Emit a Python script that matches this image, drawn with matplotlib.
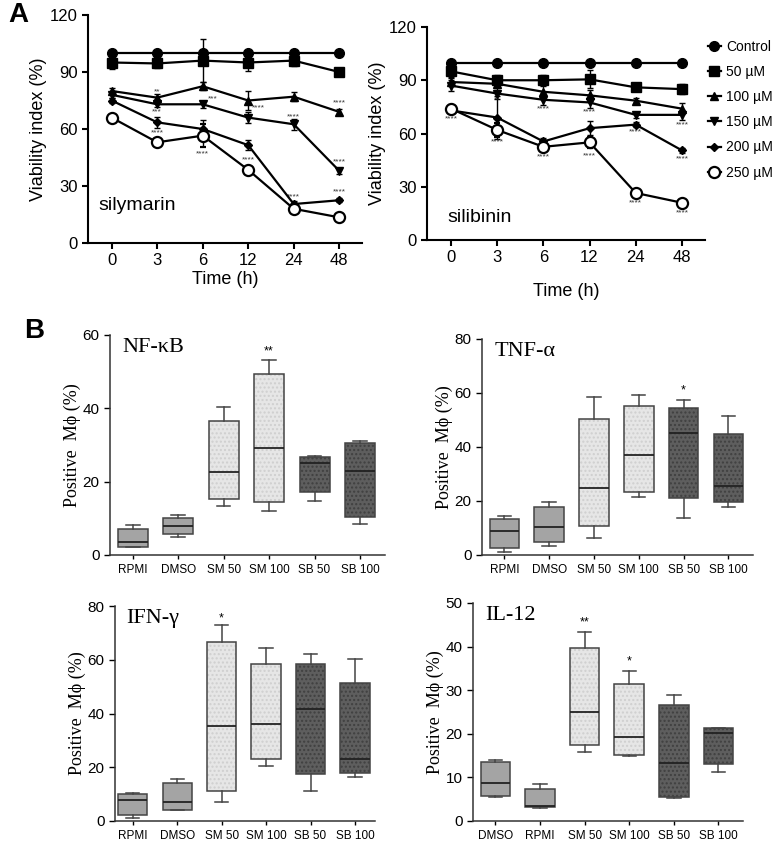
import matplotlib.pyplot as plt
from matplotlib.lines import Line2D
import matplotlib.patches as mpatches

plt.rcParams['font.family'] = ['Liberation Sans', 'DejaVu Sans']

# ---- panel A data (viability index, %) ----
times = ['0', '3', '6', '12', '24', '48']
doses = ['Control', '50 µM', '100 µM', '150 µM', '200 µM', '250 µM']

sm_ctrl = [100, 100, 100, 100, 100, 100]
sm_50 = [95, 94.5, 96, 95, 96, 90]
sm_100 = [80, 76.5, 82.5, 75, 77, 69]
sm_150 = [78, 73, 73, 66, 62.5, 38]
sm_200 = [75, 63.5, 60, 51.5, 20.5, 22.5]
sm_250 = [66, 53, 56.5, 38.5, 18, 13.5]
sm_err = [[0, 0, 0, 0, 0, 0],
          [3.5, 2.5, 11.5, 4.5, 3, 1.5],
          [1.5, 2, 2, 5, 2.5, 1.5],
          [1.5, 1.5, 2, 3, 3, 1.5],
          [1.5, 3, 5, 2.5, 1.5, 1],
          [1, 1, 6, 1.5, 1, 1]]

sb_ctrl = [100, 100, 100, 100, 100, 100]
sb_50 = [95, 90, 90, 90.5, 86, 85]
sb_100 = [89, 88, 83.5, 81.5, 78.5, 74]
sb_150 = [87, 82.5, 79, 77.5, 70.5, 70.5]
sb_200 = [73, 69, 55.5, 63, 65, 50.5]
sb_250 = [74, 62, 52.5, 55, 26.5, 21]
sb_err = [[0, 0, 0, 0, 0, 0],
          [3, 3, 3, 5, 1.5, 3],
          [2, 2, 4, 3, 1.5, 3],
          [3, 3, 3, 3, 1.5, 3],
          [2, 12, 2, 4, 1.5, 1.5],
          [2, 4, 2, 3, 1.5, 1.5]]

# significance marks: (time index, y, text)
sm_stars = [(1, 79.5, '**'), (2.22, 76, '***'), (1, 69, '***'), (1, 58, '****'),
            (2, 47, '****'), (3.22, 71, '****'), (3, 44, '****'), (4, 66.5, '****'),
            (4, 24.5, '****'), (5, 73.5, '****'), (5, 42.5, '****'), (5, 27, '****')]
sb_stars = [(0, 68.5, '****'), (1, 79, '**'), (1, 55, '****'), (2, 74, '****'),
            (2, 47, '****'), (3, 72, '****'), (3, 47.5, '****'), (4, 61, '****'),
            (4, 21, '****'), (5, 65, '****'), (5, 45.5, '****'), (5, 15.5, '****')]

# ---- panel B data (box plots: whisker low, q1, median, q3, whisker high) ----
groups = ['RPMI', 'DMSO', 'SM 50', 'SM 100', 'SB 50', 'SB 100']
groups_il12 = ['DMSO', 'RPMI', 'SM 50', 'SM 100', 'SB 50', 'SB 100']

nfkb_lo = [2.2, 5, 13.5, 12.1, 14.8, 8.4]
nfkb_q1 = [2.3, 5.7, 15.2, 14.4, 17.1, 10.4]
nfkb_med = [3.5, 7.8, 22.7, 29.2, 25.1, 23]
nfkb_q3 = [7.2, 10.2, 36.5, 49.4, 26.7, 30.6]
nfkb_hi = [8.2, 11, 40.3, 53.2, 27, 31]

tnf_lo = [1.1, 3.5, 6.3, 21.6, 13.6, 17.6]
tnf_q1 = [2.5, 5, 10.6, 23.5, 21.2, 19.5]
tnf_med = [8.8, 10.4, 24.8, 37.2, 45.3, 25.6]
tnf_q3 = [13.5, 17.6, 50.4, 55.3, 54.5, 45]
tnf_hi = [14.5, 19.8, 58.6, 59.2, 57.5, 51.4]

ifn_lo = [1.1, 4, 7.1, 20.5, 11.2, 16.4]
ifn_q1 = [2.4, 4.2, 11.2, 23, 17.4, 17.9]
ifn_med = [8, 7.1, 35.4, 36, 41.5, 22.9]
ifn_q3 = [10.2, 14.2, 66.5, 58.6, 58.4, 51.2]
ifn_hi = [10.4, 15.8, 72.8, 64.5, 62.1, 60.4]

il12_lo = [5.5, 3, 15.9, 15, 5.3, 11.2]
il12_q1 = [5.7, 3.1, 17.4, 15.2, 5.6, 13.1]
il12_med = [8.8, 3.4, 25, 19.3, 13.3, 20.2]
il12_q3 = [13.5, 7.3, 39.7, 31.4, 26.5, 21.3]
il12_hi = [14.1, 8.5, 43.4, 34.4, 28.9, 21.4]

nfkb_stars = [(3, 55.5, '**')]
tnf_stars = [(4, 61, '*')]
ifn_stars = [(2, 75.5, '*')]
il12_stars = [(2, 45.5, '**'), (3, 36.5, '*')]

fig = plt.figure(figsize=(7.78, 8.44), dpi=100)

W, H = 778.0, 844.0


def rect(x0, y0, x1, y1):
    return [x0 / W, 1 - y1 / H, (x1 - x0) / W, (y1 - y0) / H]


markers = [dict(marker='o', ms=7, mfc='black'),
           dict(marker='s', ms=7, mfc='black'),
           dict(marker='^', ms=6, mfc='black'),
           dict(marker='v', ms=6, mfc='black'),
           dict(marker='D', ms=4.5, mfc='black'),
           dict(marker='o', ms=8, mfc='white', mew=1.6)]


def viability(ax, series, errs, stars, label, label_xy, xpad):
    x = range(len(times))
    for s, e, mk in zip(series, errs, markers):
        ax.errorbar(x, s, yerr=e, color='black', lw=1.6, capsize=2.5,
                    elinewidth=1, mec='black', zorder=3, **mk)
    for xi, yi, t in stars:
        ax.text(xi, yi, t, fontsize=6, ha='center', va='center', color='#333333')
    ax.set_ylim(0, 120)
    ax.set_yticks([0, 30, 60, 90, 120])
    ax.set_xlim(-0.52, 5.5)
    ax.set_xticks(list(x))
    ax.set_xticklabels(times)
    ax.set_xlabel('Time (h)', fontsize=13, labelpad=xpad)
    ax.set_ylabel('Viability index (%)', fontsize=13, labelpad=2)
    ax.tick_params(labelsize=12, width=1.5, length=4)
    for sp in ['top', 'right']:
        ax.spines[sp].set_visible(False)
    for sp in ['left', 'bottom']:
        ax.spines[sp].set_linewidth(1.5)
    ax.text(label_xy[0], label_xy[1], label, fontsize=14, ha='left', va='center')


ax1 = fig.add_axes(rect(88, 15, 362, 243))
viability(ax1, [sm_ctrl, sm_50, sm_100, sm_150, sm_200, sm_250], sm_err,
          sm_stars, 'silymarin', (-0.3, 20), 2)

ax2 = fig.add_axes(rect(427, 27, 705, 240))
viability(ax2, [sb_ctrl, sb_50, sb_100, sb_150, sb_200, sb_250], sb_err,
          sb_stars, 'silibinin', (-0.08, 12.5), 13)

handles = [Line2D([], [], color='black', lw=1.6, **mk) for mk in markers]
fig.legend(handles, doses, loc='upper left', bbox_to_anchor=(708 / W, 1 - 40 / H),
           frameon=False, fontsize=10, handlelength=0.9, handletextpad=0.4,
           labelspacing=0.8, borderpad=0, borderaxespad=0)

fig.text(8 / W, 1 - 2 / H, 'A', fontsize=20, fontweight='bold', va='top')
fig.text(24 / W, 1 - 318 / H, 'B', fontsize=20, fontweight='bold', va='top')

serif = ['Liberation Serif', 'DejaVu Serif']
fills = {'RPMI': ('#a4a4a4', None, '#a4a4a4'),
         'DMSO': ('#a4a4a4', None, '#a4a4a4'),
         'SM': ('#e6e6e6', '....', '#cfcfcf'),
         'SB': ('#5e5e5e', '....', '#404040')}


def cytokine(ax, names, lo, q1, med, q3, hi, stars, title, ymax, step):
    stats = []
    for i in range(len(names)):
        stats.append(dict(whislo=lo[i], q1=q1[i], med=med[i], q3=q3[i],
                          whishi=hi[i], fliers=[]))
    bp = ax.bxp(stats, positions=range(len(names)), widths=0.66,
                patch_artist=True, showfliers=False,
                boxprops=dict(lw=0),
                medianprops=dict(color='#222222', lw=1.3),
                whiskerprops=dict(color='#444444', lw=1.1),
                capprops=dict(color='#444444', lw=1.1),
                capwidths=0.3)
    for box, name in zip(bp['boxes'], names):
        face, hatch, hcol = fills[name.split()[0]]
        box.set_facecolor(face)
        box.set_edgecolor(hcol)
        if hatch:
            box.set_hatch(hatch)
        outline = mpatches.PathPatch(box.get_path(), fill=False,
                                     edgecolor='#444444', lw=1.1, zorder=box.get_zorder() + 0.5)
        ax.add_patch(outline)
    for m in bp['medians']:
        m.set_zorder(5)
    for xi, yi, t in stars:
        ax.text(xi, yi, t, fontsize=9, ha='center', va='center')
    ax.set_ylim(0, ymax)
    ax.set_yticks(range(0, ymax + 1, step))
    ax.set_xlim(-0.5, 5.55)
    ax.set_xticks(range(len(names)))
    ax.set_xticklabels(names, fontsize=8.5)
    ax.tick_params(axis='y', labelsize=11, length=4, width=1)
    ax.tick_params(axis='x', length=3, width=1)
    for sp in ['top', 'right']:
        ax.spines[sp].set_visible(False)
    for sp in ['left', 'bottom']:
        ax.spines[sp].set_linewidth(1.1)
        ax.spines[sp].set_color('#333333')
    ax.set_ylabel('Positive  Mϕ (%)', fontsize=13, family=serif, labelpad=1)
    ax.text(0.045, 0.985, title, transform=ax.transAxes, fontsize=16,
            family=serif, ha='left', va='top')


ax3 = fig.add_axes(rect(110, 335, 385, 555))
cytokine(ax3, groups, nfkb_lo, nfkb_q1, nfkb_med, nfkb_q3, nfkb_hi,
         nfkb_stars, 'NF-κB', 60, 20)

ax4 = fig.add_axes(rect(482, 339, 753, 555))
cytokine(ax4, groups, tnf_lo, tnf_q1, tnf_med, tnf_q3, tnf_hi,
         tnf_stars, 'TNF-α', 80, 20)

ax5 = fig.add_axes(rect(115, 606, 375, 821))
cytokine(ax5, groups, ifn_lo, ifn_q1, ifn_med, ifn_q3, ifn_hi,
         ifn_stars, 'IFN-γ', 80, 20)
ax5.set_xlim(-0.4, 5.45)

ax6 = fig.add_axes(rect(473, 603, 743, 821))
cytokine(ax6, groups_il12, il12_lo, il12_q1, il12_med, il12_q3, il12_hi,
         il12_stars, 'IL-12', 50, 10)

fig.savefig('out.png', dpi=100)
